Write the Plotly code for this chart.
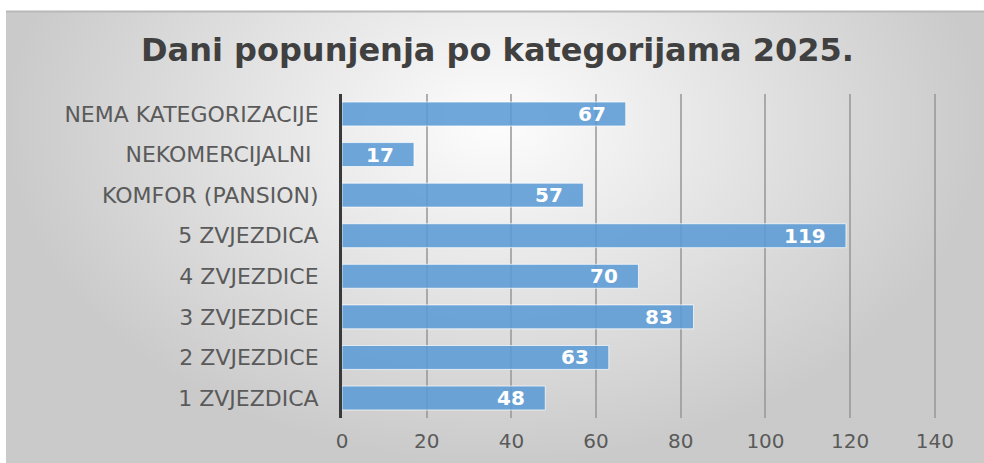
import plotly.graph_objects as go

categories = ["1 ZVJEZDICA", "2 ZVJEZDICE", "3 ZVJEZDICE", "4 ZVJEZDICE",
              "5 ZVJEZDICA", "KOMFOR (PANSION)", "NEKOMERCIJALNI ", "NEMA KATEGORIZACIJE"]
values = [48, 63, 83, 70, 119, 57, 17, 67]
x_ticks = [0, 20, 40, 60, 80, 100, 120, 140]
title = "Dani popunjenja po kategorijama 2025."

W, H = 984, 463
fig = go.Figure()

# background radial gradient panel
fig.add_trace(go.Scatter(
    x=[0, 1, 1, 0, 0], y=[0, 0, 1.5, 1.5, 0], mode="lines", fill="toself",
    line=dict(width=0), hoverinfo="skip", showlegend=False,
    fillgradient=dict(type="radial", colorscale=[[0, "#fdfdfd"], [1, "#cacaca"]]),
    xaxis="x", yaxis="y"))

fig.add_trace(go.Bar(
    y=categories, x=values, orientation="h",
    marker=dict(color="rgba(91,155,213,0.88)", line=dict(color="rgba(255,255,255,0.7)", width=1)),
    xaxis="x2", yaxis="y2", showlegend=False, hoverinfo="x+y"))

for c, v in zip(categories, values):
    fig.add_annotation(x=v, y=c, xref="x2", yref="y2", text=str(v), showarrow=False,
                       xanchor="right", xshift=-18,
                       font=dict(family="DejaVu Sans", size=20, color="white", weight="bold"))

fig.update_layout(
    width=W, height=H, autosize=False,
    margin=dict(l=0, r=0, t=0, b=0, pad=0, autoexpand=False),
    showlegend=False,
    paper_bgcolor="white", plot_bgcolor="rgba(0,0,0,0)",
    bargap=0.41,
    xaxis=dict(domain=[6 / W, 1], range=[0, 1], visible=False, fixedrange=True),
    yaxis=dict(domain=[0, 1 - 11 / H], range=[0, 1], visible=False, fixedrange=True),
    xaxis2=dict(domain=[342 / W, 937 / W], range=[0, 140.5], tickvals=x_ticks,
                anchor="y2", showgrid=True, gridcolor="rgba(150,150,150,0.75)", gridwidth=2,
                zeroline=False, showline=False, ticks="", ticklabelstandoff=9,
                automargin=False,
                tickfont=dict(family="DejaVu Sans", size=20, color="#5a5a5a")),
    yaxis2=dict(domain=[(H - 418.3) / H, (H - 93.7) / H], anchor="x2", type="category",
                showline=True, linecolor="#3a3a3a", linewidth=3, ticks="",
                showgrid=False, ticklabelstandoff=16, automargin=False,
                tickfont=dict(family="DejaVu Sans", size=22, color="#5a5a5a")),
    title=dict(text=title, x=497.5 / W, xanchor="center", y=1 - 50 / H, yanchor="middle",
               font=dict(family="DejaVu Sans", size=32, color="#404040", weight="bold")),
    shapes=[dict(type="line", xref="paper", yref="paper", x0=6 / W, x1=1,
                 y0=1 - 11.5 / H, y1=1 - 11.5 / H, line=dict(color="#b8b8b8", width=2))],
)

fig.write_html("out.html", config={"displayModeBar": False},
               post_script="document.body.style.margin='0';document.body.style.overflow='hidden';")
